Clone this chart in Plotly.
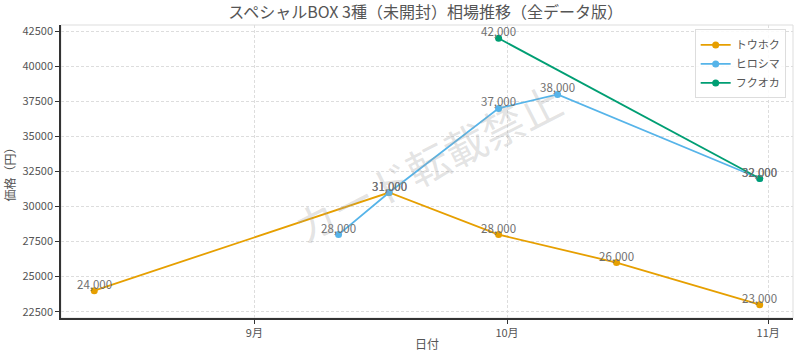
import plotly.graph_objects as go
import pandas as pd

# ---- data ----
tohoku_dates = ["2024-08-13", "2024-09-17", "2024-09-30", "2024-10-14", "2024-10-31"]
tohoku_prices = [24000, 31000, 28000, 26000, 23000]

hiroshima_dates = ["2024-09-11", "2024-09-17", "2024-09-30", "2024-10-07", "2024-10-31"]
hiroshima_prices = [28000, 31000, 37000, 38000, 32000]

fukuoka_dates = ["2024-09-30", "2024-10-31"]
fukuoka_prices = [42000, 32000]

series_names = ["トウホク", "ヒロシマ", "フクオカ"]
series_colors = ["#E69F00", "#56B4E9", "#009E73"]

month_ticks = ["2024-09-01", "2024-10-01", "2024-11-01"]
month_labels = ["9月", "10月", "11月"]
y_ticks = [22500, 25000, 27500, 30000, 32500, 35000, 37500, 40000, 42500]

title_text = "スペシャルBOX 3種（未開封）相場推移（全データ版）"
watermark = "カード転載禁止"

FONT = "Noto Sans CJK JP, Noto Sans, sans-serif"

series = [
    (series_names[0], tohoku_dates, tohoku_prices, series_colors[0]),
    (series_names[1], hiroshima_dates, hiroshima_prices, series_colors[1]),
    (series_names[2], fukuoka_dates, fukuoka_prices, series_colors[2]),
]

fig = go.Figure()
annotations = []
for name, dates, prices, color in series:
    fig.add_trace(go.Scatter(
        x=dates, y=prices, name=name, mode="lines+markers",
        line=dict(color=color, width=1.8),
        marker=dict(color=color, size=7),
    ))
    for d, p in zip(dates, prices):
        annotations.append(dict(
            x=d, y=p, xref="x", yref="y", text=f"{p:,}", showarrow=False,
            yshift=7, font=dict(family=FONT, size=11.5, color="#707070"),
        ))

# axis ranges with 5% padding like matplotlib
all_dates = pd.to_datetime(tohoku_dates + hiroshima_dates + fukuoka_dates)
all_prices = tohoku_prices + hiroshima_prices + fukuoka_prices
dspan = all_dates.max() - all_dates.min()
xr = [all_dates.min() - dspan * 0.05, all_dates.max() + dspan * 0.05]
pspan = max(all_prices) - min(all_prices)
yr = [min(all_prices) - pspan * 0.05, max(all_prices) + pspan * 0.05]

annotations.append(dict(
    x=0.5, y=0.53, xref="paper", yref="paper", text=watermark, showarrow=False,
    textangle=-27, font=dict(family=FONT, size=42, color="rgba(160,160,160,0.3)"),
))

fig.update_layout(
    width=800, height=359,
    margin=dict(l=61, r=7, t=25, b=41),
    paper_bgcolor="white", plot_bgcolor="white",
    font=dict(family=FONT, size=11, color="#555555"),
    title=dict(text=title_text, x=0.532, xanchor="center", y=0.98, yanchor="top",
               font=dict(family=FONT, size=16, color="#555555")),
    showlegend=True,
    legend=dict(x=0.99, xanchor="right", y=0.985, yanchor="top",
                bordercolor="#DDDDDD", borderwidth=1, bgcolor="rgba(255,255,255,0.85)",
                font=dict(family=FONT, size=11, color="#555555"),
                itemwidth=30, tracegroupgap=0),
    annotations=annotations,
    shapes=[dict(type="rect", xref="paper", yref="paper", x0=0, y0=0, x1=1, y1=1,
                 line=dict(color="#DDDDDD", width=1), layer="below")],
    xaxis=dict(
        type="date", range=xr, tickvals=month_ticks, ticktext=month_labels,
        automargin=False,
        showgrid=True, gridcolor="#DDDDDD", griddash="3px,2px", gridwidth=1,
        showline=True, linecolor="#333333", linewidth=1.5,
        ticks="outside", ticklen=4, tickcolor="#333333",
        title=dict(text="日付", font=dict(family=FONT, size=12, color="#555555"), standoff=2),
        tickfont=dict(family=FONT, size=11, color="#555555"), zeroline=False,
    ),
    yaxis=dict(
        range=yr, tickvals=y_ticks, tickformat="d", automargin=False,
        showgrid=True, gridcolor="#DDDDDD", griddash="3px,2px", gridwidth=1,
        showline=True, linecolor="#333333", linewidth=1.5,
        ticks="outside", ticklen=4, tickcolor="#333333",
        title=dict(text="価格（円）", font=dict(family=FONT, size=12, color="#555555"), standoff=4),
        tickfont=dict(family=FONT, size=11, color="#555555"), zeroline=False,
    ),
)

fig.write_html("out.html", config={"displayModeBar": False},
               post_script="document.body.style.margin='0';")
